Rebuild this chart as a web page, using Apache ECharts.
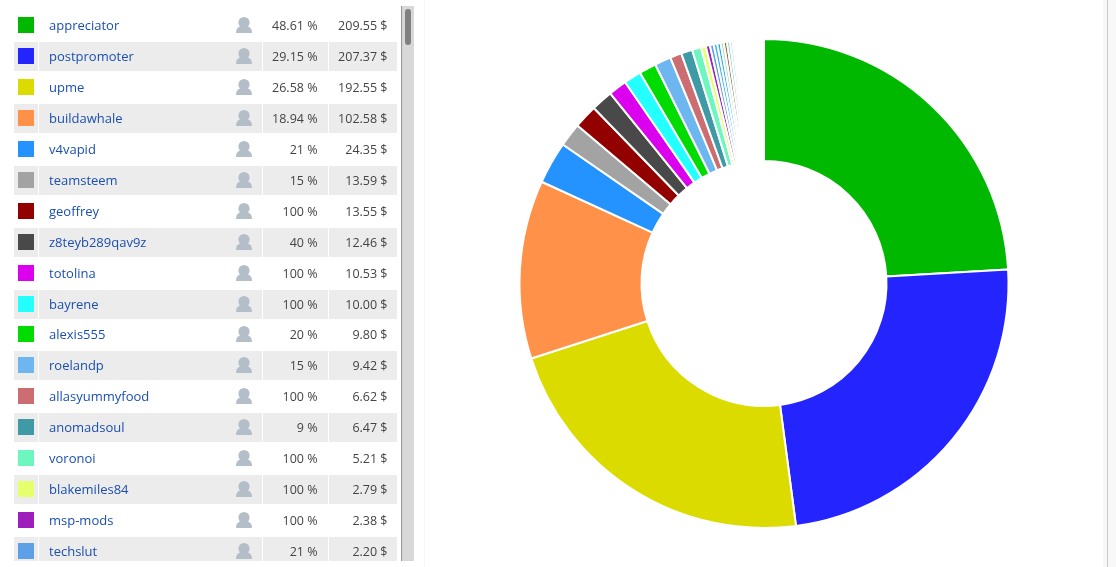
<!DOCTYPE html>
<html><head><meta charset="utf-8">
<style>html,body{margin:0;padding:0;background:#fff}#c{width:1116px;height:567px}</style>
<script src="https://cdn.jsdelivr.net/npm/echarts@6/dist/echarts.min.js"></script>
</head><body><div id="c"></div>
<script>
const names = ['appreciator','postpromoter','upme','buildawhale','v4vapid','teamsteem','geoffrey','z8teyb289qav9z','totolina','bayrene','alexis555','roelandp','allasyummyfood','anomadsoul','voronoi','blakemiles84','msp-mods','techslut'];
const percents = ['48.61 %','29.15 %','26.58 %','18.94 %','21 %','15 %','100 %','40 %','100 %','100 %','20 %','15 %','100 %','9 %','100 %','100 %','100 %','21 %'];
const amounts = [209.55,207.37,192.55,102.58,24.35,13.59,13.55,12.46,10.53,10.00,9.80,9.42,6.62,6.47,5.21,2.79,2.38,2.20];
const rowColors = ['#00B800','#2424FF','#DBDB00','#FF9248','#2492FF','#A3A3A3','#920000','#494949','#DB00EE','#24FFFF','#00DB00','#6DB6F0','#CC6D72','#3F9AA6','#6DF6BE','#E6FF6D','#9D1DBD','#5DA0E8'];
// rows below the visible part of the list: amounts estimated from the thin stripes of the ring
const tailAmounts = [2.05,1.95,1.85,1.80,1.70,1.60,1.20,0.85,0.70,0.60,0.55,0.50,0.50,0.50,0.50,0.50,0.50,0.50,0.50,0.50,0.50,0.50,0.50,0.50,0.45,0.45,0.45,0.45,0.45,0.45,0.40,0.40,0.40,0.40,0.40,0.40,0.35,0.35,0.35,0.35,0.30,0.30,0.30];
const tailColors = ['#3DB0F0','#24A8F0','#B0E0B0','#8A5A40','#80D0C0','#B8E0E8','#FF9A70','#FFC0C0','#C0D8F0','#E0C0F0','#C0F0E0','#F0F0A0'];

const sliceData = amounts.map((v,i)=>({value:v,name:names[i],itemStyle:{color:rowColors[i]}}))
  .concat(tailAmounts.map((v,i)=>({value:v,name:'other'+i,itemStyle:{color:tailColors[i%tailColors.length]}})));

const PITCH = 30.94, FIRST = 25.05;
const g = [];
const txt = (x,y,text,align,fill,size)=>({type:'text',silent:true,x,y,style:{text,fill,font:size+'px "Open Sans"',align,verticalAlign:'middle'}});
const rect = (x,y,w,h,fill,r)=>({type:'rect',silent:true,shape:{x,y,width:w,height:h,r:r||0},style:{fill}});
names.forEach((n,i)=>{
  const cy = Math.round(FIRST + i*PITCH);
  if(i%2===1){
    const bottom = Math.min(cy+15,561);
    g.push(rect(14,cy-14,24,bottom-cy+14,'#ECECEC'));
    g.push(rect(39,cy-14,223,bottom-cy+14,'#ECECEC'));
    g.push(rect(263,cy-14,65,bottom-cy+14,'#ECECEC'));
    g.push(rect(329,cy-14,68,bottom-cy+14,'#ECECEC'));
  }
  g.push(rect(18,cy-8,16,16,rowColors[i]));
  g.push(txt(49,cy+1.5,n,'left','#1B4FB0',13));
  g.push({type:'circle',silent:true,shape:{cx:244,cy:cy-2.5,r:5.6},style:{fill:'#B4BEC8'}});
  g.push(rect(236,cy+1,16,7,'#B4BEC8',[7,7,1,1]));
  g.push(txt(317.5,cy+1.5,percents[i],'right','#444',12.5));
  g.push(txt(387.5,cy+1.5,amounts[i].toFixed(2)+' $','right','#444',12.5));
});
// scrollbar and panel rules
g.push(rect(401,6,1.5,555,'#999'));
g.push(rect(402.5,6,11.5,555,'#D8D8D8'));
g.push(rect(405,9,6,36,'#808080',3));
g.push(rect(424,0,1,567,'#F6F6F6'));
g.push(rect(1103,0,4,567,'#F8F8F8'));
g.push(rect(1107,0,1,567,'#CCCCCC'));
g.push(rect(1108,0,8,567,'#F8F8F8'));

const chart = echarts.init(document.getElementById('c'),null,{renderer:'canvas'});
chart.setOption({
  animation:false,
  backgroundColor:'#fff',
  graphic:{elements:g},
  series:[{type:'pie',center:[764,283.5],radius:[122.5,244.5],startAngle:90,clockwise:true,
    minAngle:0,avoidLabelOverlap:false,silent:true,label:{show:false},labelLine:{show:false},
    itemStyle:{borderColor:'#fff',borderWidth:2},data:sliceData}]
});
</script></body></html>
